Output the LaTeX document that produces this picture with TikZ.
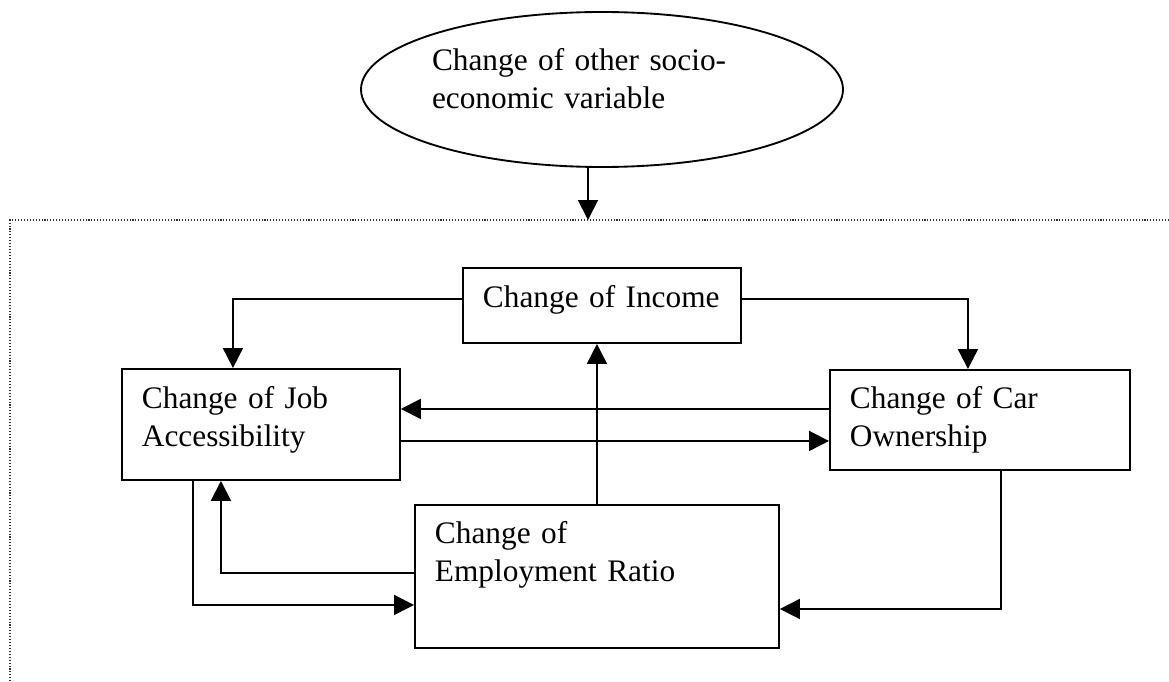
\documentclass[tikz,border=0pt]{standalone}
\usepackage{fontspec}
\setmainfont{Liberation Serif}
\usetikzlibrary{arrows.meta, positioning, calc, shapes.geometric}
\newcommand{\diagfont}{\fontsize{23.5}{28}\selectfont}

\begin{document}
\begin{tikzpicture}[
  x=0.75pt, y=-0.75pt,
  block/.style = {draw, line width=1.4pt, rectangle, anchor=north west, align=left, inner xsep=15pt, inner ysep=0pt, font=\diagfont},
  oval/.style = {draw, line width=1.4pt, ellipse, align=left, inner sep=0pt, font=\diagfont},
  arrow/.style = {line width=1.4pt, -{Triangle[length=15pt, width=15pt]}},
  frame/.style = {line width=0.8pt, black!80, dash pattern=on 0.8pt off 1.4pt}
]
  \useasboundingbox (0,0) rectangle (1169,681);

  % ======================================================
  % outside driver (ellipse) and the system frame
  % ======================================================
  \node[oval, minimum width=361.5pt, minimum height=116.25pt, text width=255pt,
        text height=16.5pt, text depth=44.25pt] (other) at (602,89.5) {
    Change of other socio-\\economic variable
  };
  \coordinate (sysin) at (588,220);
  \draw[frame] (1169,220) -- (10,220) -- (10,681);
  \draw[arrow] (other.south -| sysin) -- (sysin);

  % Income
  \node[block, text width=178.5pt, text height=29.8pt, text depth=26.5pt] (income) at (462,267) {
    \mbox{Change of Income}
  };

  % Job accessibility (left)
  \node[block, text width=178.5pt, text height=30pt, text depth=53.25pt] (job) at (121,368) {
    Change of Job\\Accessibility
  };

  % Car ownership (right)
  \node[block, text width=195pt, text height=29.25pt, text depth=45.75pt] (car) at (829,369) {
    Change of Car\\Ownership
  };

  % Employment ratio (bottom)
  \node[block, text width=243pt, text height=29.25pt, text depth=78pt] (employ) at (414,504) {
    Change of\\Employment Ratio
  };

  % income -> job / car
  \draw[arrow] ([yshift=5pt]income.west) -| ([xshift=-21pt]job.north);
  \draw[arrow] ([yshift=5pt]income.east) -| ([xshift=-9pt]car.north);

  % job <-> car
  \draw[arrow] ([yshift=8.25pt]car.west) -- ([yshift=8.25pt]car.west -| job.east);
  \draw[arrow] ([yshift=-12.4pt]job.east) -- ([yshift=-12.4pt]job.east -| car.west);

  % employment -> income
  \draw[arrow] (employ.north) -- (employ.north |- income.south);

  % employment <-> job
  \draw[arrow] ([yshift=2.6pt]employ.west) -| ([xshift=-30pt]job.south);
  \draw[arrow] ([xshift=-51pt]job.south) |- ([yshift=-21.4pt]employ.west);

  % car -> employment
  \draw[arrow] ([xshift=15.75pt]car.south) |- ([yshift=-24.4pt]employ.east);

\end{tikzpicture}
\end{document}
